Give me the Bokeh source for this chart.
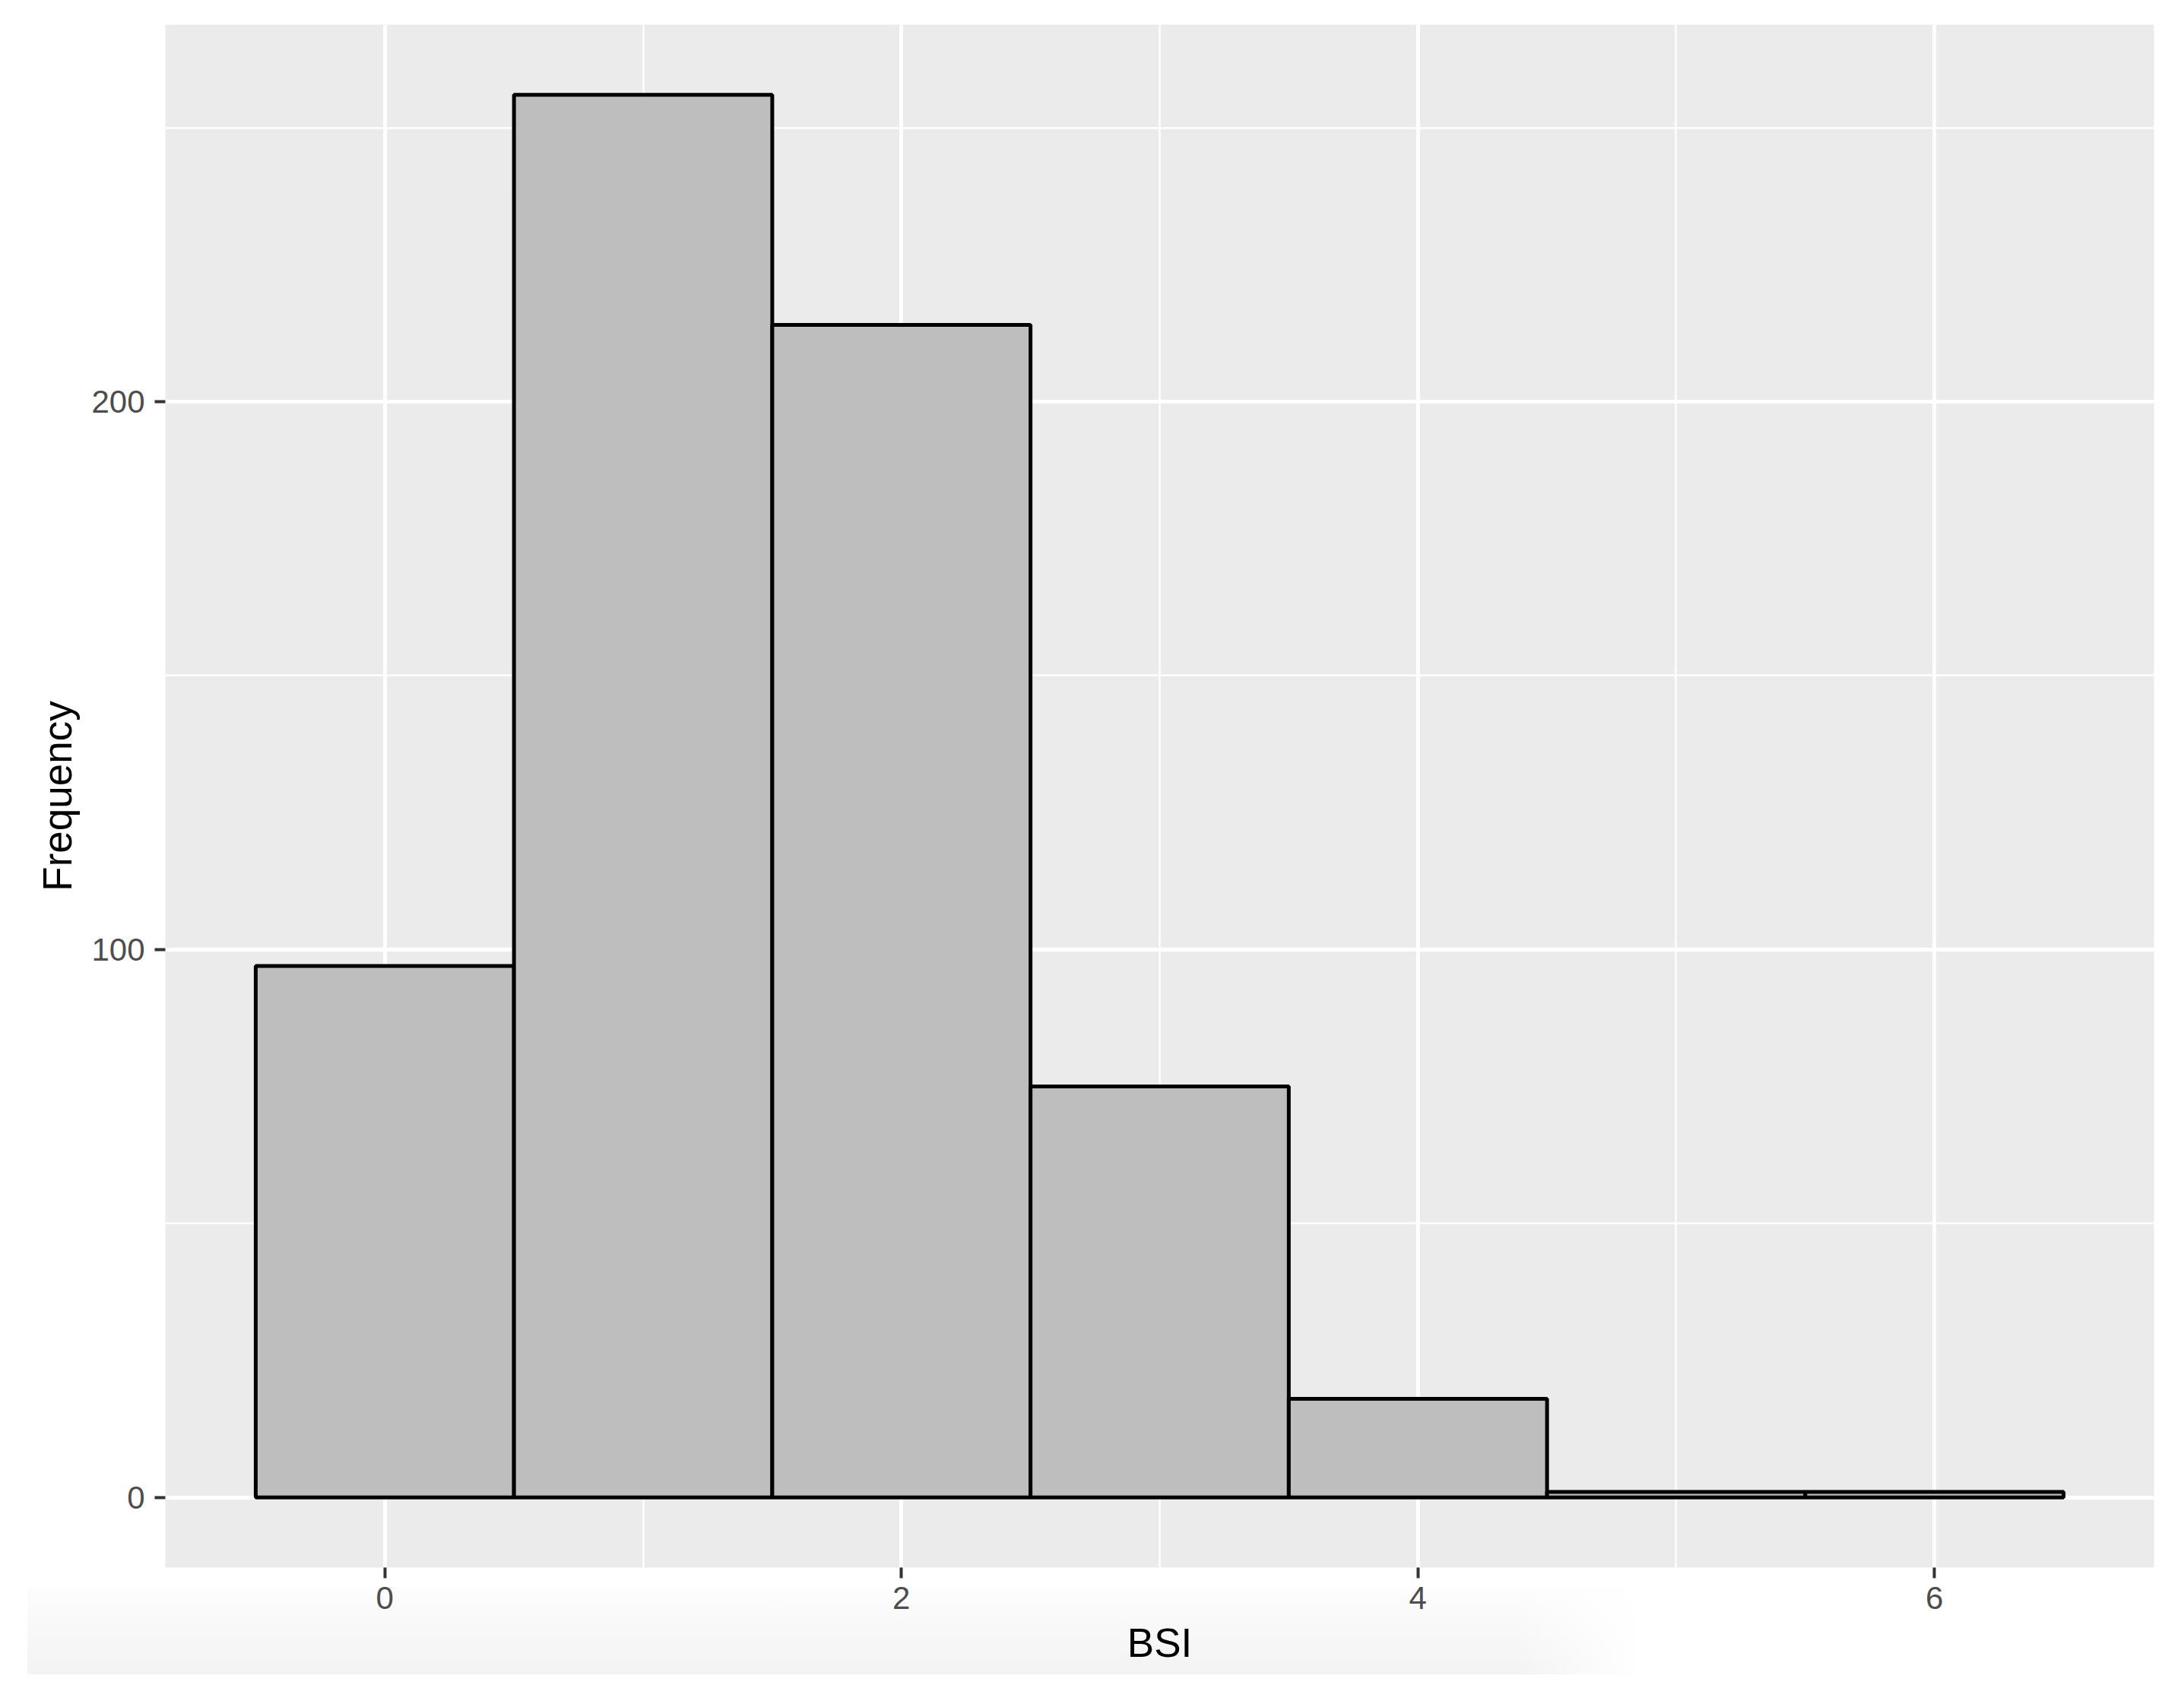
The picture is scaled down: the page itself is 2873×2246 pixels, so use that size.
from bokeh.plotting import figure
from bokeh.models import ColumnDataSource, FixedTicker, Range1d
from bokeh.embed import file_html
from bokeh.resources import INLINE

# ---- data ----
bsi_values = [0, 1, 2, 3, 4, 5, 6]
frequency = [97, 256, 214, 75, 18, 1, 1]
bin_width = 1.0
x_major_ticks = [0, 2, 4, 6]
x_minor_ticks = [1, 3, 5]
y_major_ticks = [0, 100, 200]
y_minor_ticks = [50, 150, 250]
x_title = "BSI"
y_title = "Frequency"

lefts = [v - bin_width / 2 for v in bsi_values]
rights = [v + bin_width / 2 for v in bsi_values]
src = ColumnDataSource(dict(left=lefts, right=rights, top=frequency,
                            bottom=[0] * len(frequency)))

# ggplot-like 5% expansion
xmin, xmax = min(lefts), max(rights)
xpad = 0.05 * (xmax - xmin)
ymax = max(frequency)
ypad = 0.05 * ymax

W, H = 2857, 2230
p = figure(width=W, height=H, output_backend="svg", toolbar_location=None,
           x_range=Range1d(xmin - xpad, xmax + xpad),
           y_range=Range1d(-ypad, ymax + ypad),
           min_border_left=217, min_border_right=24,
           min_border_top=32, min_border_bottom=168)

p.background_fill_color = "#EBEBEB"
p.border_fill_color = None
p.outline_line_color = None

# faint shadow band seen under the x axis in the reference
p.styles = {
    "background-image": "linear-gradient(to right, rgba(255,255,255,0) 0%, rgba(255,255,255,0) 92%, #ffffff 100%), "
                        "linear-gradient(to bottom, #fdfdfd 0%, #f3f3f3 100%)",
    "background-size": "2125px 116px, 2125px 116px",
    "background-position": "36px 2087px, 36px 2087px",
    "background-repeat": "no-repeat",
}

p.quad(left="left", right="right", top="top", bottom="bottom", source=src,
       fill_color="#BEBEBE", line_color="black", line_width=5)

FONT = "Liberation Sans"

p.xaxis.ticker = FixedTicker(ticks=x_major_ticks, minor_ticks=x_minor_ticks)
p.yaxis.ticker = FixedTicker(ticks=y_major_ticks, minor_ticks=y_minor_ticks)
p.xgrid.ticker = p.xaxis.ticker
p.ygrid.ticker = p.yaxis.ticker

for grid in (p.xgrid, p.ygrid):
    grid.grid_line_color = "white"
    grid.grid_line_width = 5
    grid.minor_grid_line_color = "white"
    grid.minor_grid_line_width = 2.5

for ax in (p.xaxis, p.yaxis):
    ax.axis_line_color = None
    ax.major_tick_line_color = "#333333"
    ax.major_tick_line_width = 4
    ax.major_tick_in = 0
    ax.major_tick_out = 14
    ax.minor_tick_line_color = None
    ax.major_label_text_font = FONT
    ax.major_label_text_font_size = "42px"
    ax.major_label_text_color = "#4D4D4D"
    ax.axis_label_text_font = FONT
    ax.axis_label_text_font_size = "53px"
    ax.axis_label_text_font_style = "normal"
    ax.axis_label_text_color = "black"

p.xaxis.axis_label = x_title
p.yaxis.axis_label = y_title
p.xaxis.major_label_standoff = 11
p.yaxis.major_label_standoff = 13
p.xaxis.axis_label_standoff = 12
p.yaxis.axis_label_standoff = 12

open("out.html", "w").write(file_html(p, INLINE))
